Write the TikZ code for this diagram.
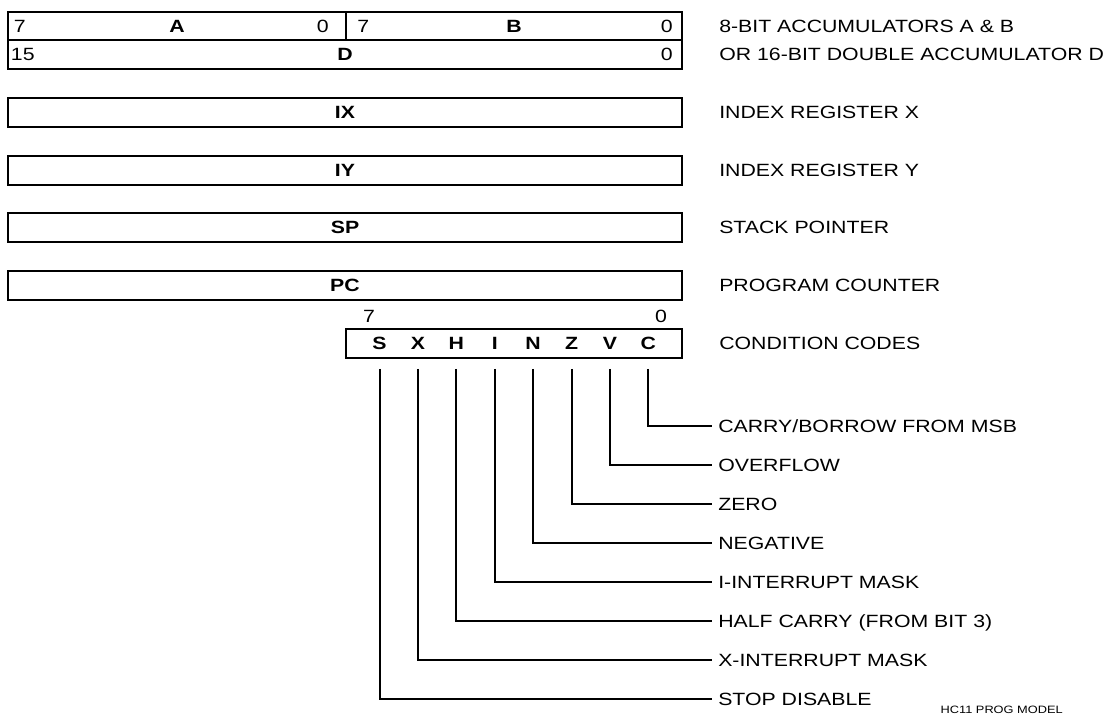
\documentclass[tikz,border=0pt]{standalone}
\usepackage{fontspec}
\setmainfont{Liberation Sans}[FakeStretch=1.2]
\usetikzlibrary{positioning}

\begin{document}
\begin{tikzpicture}[
  x=0.75pt, y=-0.75pt,
  font=\fontsize{13.3}{15}\selectfont,
  reg/.style={draw, line width=1.5pt, inner sep=0pt, minimum height=21.75pt, font=\fontsize{13.3}{15}\selectfont\bfseries},
  wide/.style={reg, minimum width=505.5pt},
  bitno/.style={inner sep=0pt},
  note/.style={inner sep=0pt, text height=9.5pt, text depth=0pt},
  bitcell/.style={inner sep=0pt, minimum height=21.75pt, font=\fontsize{13.3}{15}\selectfont\bfseries},
  flag/.style={anchor=west, inner sep=4.5pt, text height=9.5pt, text depth=0pt},
  link/.style={line width=1.5pt}
]
\useasboundingbox (0,0) rectangle (1112,717);

%------------------------------------------------
% Accumulators
%------------------------------------------------
\node[reg, minimum width=253.5pt, minimum height=21pt] (acc_a) at (177,26) {A};
\node[reg, minimum width=252pt, minimum height=21pt] (acc_b) at (514,26) {B};
\node[wide] (acc_d) at (345,54.5) {D};

% Bit numbers
\node[bitno, anchor=west] (a_hi) at ([xshift=5pt]acc_a.west) {7};
\node[bitno, anchor=east] (a_lo) at ([xshift=-13.5pt]acc_a.east) {0};
\node[bitno, anchor=west] (b_hi) at ([xshift=9pt]acc_b.west) {7};
\node[bitno, anchor=east] (b_lo) at ([xshift=-7.5pt]acc_b.east) {0};
\node[bitno, anchor=west] (d_hi) at ([xshift=2.8pt]acc_d.west) {15};
\node[bitno, anchor=east] (d_lo) at ([xshift=-7.5pt]acc_d.east) {0};

%------------------------------------------------
% 16-bit registers
%------------------------------------------------
\node[wide] (ix) at (345,112.5) {IX};
\node[wide] (iy) at (345,170) {IY};
\node[wide] (sp) at (345,227.5) {SP};
\node[wide] (pc) at (345,285) {PC};

%------------------------------------------------
% Condition code register
%------------------------------------------------
\node[reg, minimum width=252pt] (ccr) at (514,343.5) {};
\foreach \b [count=\i from 0] in {S,X,H,I,N,Z,V,C}
  \node[bitcell] (cc_\b) at (379.5+38.4*\i,343.5) {\b};
\node[bitno] (cc_hi) at (369,316) {7};
\node[bitno] (cc_lo) at (661,316) {0};

%------------------------------------------------
% Register names
%------------------------------------------------
\node[note, right=27pt of acc_b] (acc_ab_txt) {8-BIT ACCUMULATORS A \& B};
\node[note, right=27pt of acc_d] (acc_d_txt) {OR 16-BIT DOUBLE ACCUMULATOR D};
\node[note, right=27pt of ix] (ix_txt) {INDEX REGISTER X};
\node[note, right=27pt of iy] (iy_txt) {INDEX REGISTER Y};
\node[note, right=27pt of sp] (sp_txt) {STACK POINTER};
\node[note, right=27pt of pc] (pc_txt) {PROGRAM COUNTER};
\node[note, right=27pt of ccr] (ccr_txt) {CONDITION CODES};

%------------------------------------------------
% Condition code bits
%------------------------------------------------
\node[flag] (carry) at (712,426) {CARRY/BORROW FROM MSB};
\node[flag] (ovf) at (712,465) {OVERFLOW};
\node[flag] (zero) at (712,504) {ZERO};
\node[flag] (neg) at (712,543) {NEGATIVE};
\node[flag] (imask) at (712,582) {I-INTERRUPT MASK};
\node[flag] (half) at (712,621) {HALF CARRY (FROM BIT 3)};
\node[flag] (xmask) at (712,660) {X-INTERRUPT MASK};
\node[flag] (stop) at (712,699) {STOP DISABLE};

\draw[link] ([yshift=-8pt]cc_C.south) |- (carry.west);
\draw[link] ([yshift=-8pt]cc_V.south) |- (ovf.west);
\draw[link] ([yshift=-8pt]cc_Z.south) |- (zero.west);
\draw[link] ([yshift=-8pt]cc_N.south) |- (neg.west);
\draw[link] ([yshift=-8pt]cc_I.south) |- (imask.west);
\draw[link] ([yshift=-8pt]cc_H.south) |- (half.west);
\draw[link] ([yshift=-8pt]cc_X.south) |- (xmask.west);
\draw[link] ([yshift=-8pt]cc_S.south) |- (stop.west);

\node[inner sep=0pt, anchor=east, font=\fontsize{8}{9}\selectfont] (tag) at (1063,710) {HC11 PROG MODEL};

\end{tikzpicture}
\end{document}
